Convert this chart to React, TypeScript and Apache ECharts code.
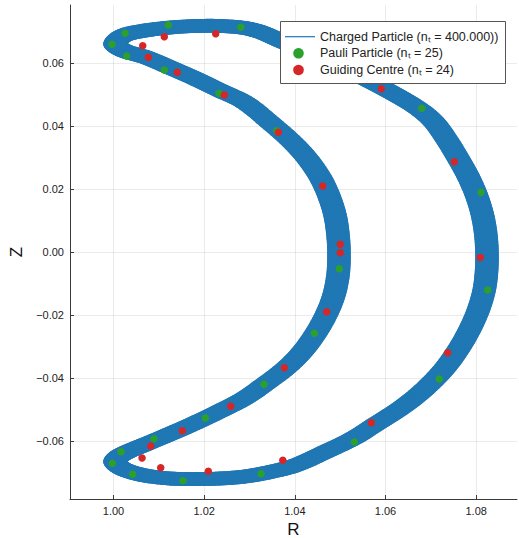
import React, { useEffect, useRef } from "react";
import * as echarts from "echarts";

// Centre line of the charged-particle band (R, Z)
const orbitR = [
  1.00033, 1.00121, 1.00276, 1.00695, 1.01246, 1.01798, 1.02349, 1.029, 1.03275, 1.03672,
  1.04334, 1.05106, 1.05547, 1.05988, 1.06407, 1.06782, 1.07069, 1.07356, 1.07598, 1.07819,
  1.07995, 1.08128, 1.08205, 1.08238, 1.08227, 1.08172, 1.08039, 1.07841, 1.07598, 1.07312,
  1.06981, 1.06606, 1.06209, 1.0579, 1.05304, 1.04665,
  1.04003, 1.03452, 1.029, 1.02349, 1.01798, 1.01246, 1.00695, 1.0032, 1.00121, 1.00033,
  1.00121, 1.00276, 1.00695, 1.01246, 1.01798, 1.02349, 1.029, 1.03341, 1.03805, 1.04158,
  1.04466, 1.04709, 1.04863, 1.04952, 1.04974, 1.04952, 1.04885, 1.04753, 1.04555, 1.04246,
  1.03893, 1.03452, 1.029, 1.02349, 1.01798, 1.01246, 1.00695, 1.00276, 1.00121,
];
const orbitZ = [
  0.06597, 0.06771, 0.06898, 0.07025, 0.0712, 0.07168, 0.07168, 0.07104, 0.06962, 0.06708,
  0.06312, 0.05804, 0.05503, 0.0517, 0.04837, 0.04488, 0.04123, 0.03552, 0.02981, 0.0241,
  0.0184, 0.01237, 0.00634, 0.0, -0.00634, -0.01237, -0.01871, -0.02506, -0.03108, -0.03679,
  -0.04187, -0.04662, -0.05075, -0.05455, -0.05899, -0.06343,
  -0.06771, -0.06978, -0.0712, -0.07184, -0.072, -0.07184, -0.07089, -0.06946, -0.06803, -0.06645,
  -0.06486, -0.06359, -0.06105, -0.05772, -0.05423, -0.05043, -0.04631, -0.04187, -0.03679, -0.03172,
  -0.02569, -0.01935, -0.01364, -0.00729, -0.00095, 0.00539, 0.01173, 0.01776, 0.02379, 0.03013,
  0.03552, 0.04107, 0.04742, 0.05122, 0.05503, 0.05852, 0.06185, 0.06359, 0.0647,
];

// Pauli particle (n_t = 25)
const pauliR = [
  0.99967, 1.00254, 1.00291, 1.01209, 1.0112, 1.02806, 1.02327, 1.036, 1.0498, 1.06798,
  1.08106, 1.08253, 1.07186, 1.04429, 1.03319, 1.02025, 1.03253, 1.05311, 1.00893, 1.00165,
  0.99974, 1.00423, 1.01533, 1.04224, 1.05216,
];
const pauliZ = [
  0.06587, 0.06936, 0.06216, 0.072, 0.05772, 0.07127, 0.05033, 0.03847, -0.0053, 0.04558,
  0.01893, -0.01205, -0.04028, -0.02579, -0.04196, -0.05265, -0.07031, -0.06026, -0.05921, -0.06334,
  -0.06702, -0.07051, -0.07254, 0.06407, 0.05741,
];

// Guiding centre (n_t = 24)
const gcR = [
  1.00644, 1.0112, 1.00768, 1.02254, 1.01407, 1.02444, 1.03635, 1.04614, 1.05002, 1.05002,
  1.05907, 1.07517, 1.0809, 1.07371, 1.05686, 1.04702, 1.03767, 1.02585, 1.01517, 1.02091,
  1.03734, 1.0082, 1.00629, 1.01041,
];
const gcZ = [
  0.06543, 0.06828, 0.06175, 0.06924, 0.05699, 0.04979, 0.03796, 0.02093, 0.00244, -0.00022,
  0.05179, 0.02864, -0.00174, -0.03194, -0.05414, -0.01893, -0.0367, -0.04894, -0.05668, -0.06955,
  -0.06607, -0.06153, -0.06534, -0.06841,
];

const xTicks = [1.0, 1.02, 1.04, 1.06, 1.08];
const yTicks = [-0.06, -0.04, -0.02, 0, 0.02, 0.04, 0.06];

const legendLabels = [
  "Charged Particle (nₜ = 400.000))",
  "Pauli Particle (nₜ = 25)",
  "Guiding Centre (nₜ = 24)",
];

const BLUE = "#1f77b4";
const GREEN = "#2ca02c";
const RED = "#d62728";
const FONT = "Liberation Sans, Helvetica, Arial, sans-serif";
// half-width of the gyration band, in data units (R, Z)
const GYRO_R = 0.0026;
const GYRO_Z = 0.0022;
const SUBDIV = 6;

export default function App() {
  const ref = useRef<HTMLDivElement>(null);

  useEffect(() => {
    const chart = echarts.init(ref.current!, null, { renderer: "svg" });
    const n = orbitR.length;

    // centripetal Catmull-Rom point between p1 and p2
    const crPoint = (p0: number[], p1: number[], p2: number[], p3: number[], u: number) => {
      const d = (a: number[], b: number[]) => Math.max(Math.sqrt(Math.hypot(b[0] - a[0], b[1] - a[1])), 1e-4);
      const t0 = 0;
      const t1 = t0 + d(p0, p1);
      const t2 = t1 + d(p1, p2);
      const t3 = t2 + d(p2, p3);
      const t = t1 + (t2 - t1) * u;
      const lerp = (a: number[], b: number[], ta: number, tb: number) => [
        ((tb - t) / (tb - ta)) * a[0] + ((t - ta) / (tb - ta)) * b[0],
        ((tb - t) / (tb - ta)) * a[1] + ((t - ta) / (tb - ta)) * b[1],
      ];
      const A1 = lerp(p0, p1, t0, t1);
      const A2 = lerp(p1, p2, t1, t2);
      const A3 = lerp(p2, p3, t2, t3);
      const B1 = lerp(A1, A2, t0, t2);
      const B2 = lerp(A2, A3, t1, t3);
      return lerp(B1, B2, t1, t2);
    };

    const renderBand = (params: any, api: any) => {
      const i = params.dataIndex;
      const idx = (k: number) => ((k % n) + n) % n;
      const P = [i - 1, i, i + 1, i + 2].map((k) => api.coord([orbitR[idx(k)], orbitZ[idx(k)]]));
      const sz = api.size([GYRO_R, GYRO_Z]);
      const rx = sz[0];
      const ry = sz[1];
      const pts: number[][] = [];
      for (let s = 0; s <= SUBDIV; s++) pts.push(crPoint(P[0], P[1], P[2], P[3], s / SUBDIV));
      const style = { fill: BLUE };
      const children: any[] = [];
      for (let s = 0; s < SUBDIV; s++) {
        const a = pts[s];
        const b = pts[s + 1];
        const dx = b[0] - a[0];
        const dy = b[1] - a[1];
        const len = Math.hypot(dx, dy) || 1;
        const nx = -dy / len;
        const ny = dx / len;
        const h = Math.sqrt(rx * rx * nx * nx + ry * ry * ny * ny) || 1;
        const ox = (rx * rx * nx) / h;
        const oy = (ry * ry * ny) / h;
        children.push({
          type: "polygon",
          shape: {
            points: [
              [a[0] + ox, a[1] + oy],
              [b[0] + ox, b[1] + oy],
              [b[0] - ox, b[1] - oy],
              [a[0] - ox, a[1] - oy],
            ],
          },
          style,
        });
        children.push({ type: "ellipse", shape: { cx: a[0], cy: a[1], rx, ry }, style });
      }
      return { type: "group", children };
    };

    const axisLineStyle = { color: "#3a3a3a", width: 1 };
    const gridLine = { show: true, lineStyle: { color: "rgba(0,0,0,0.08)", width: 1 } };
    const labelStyle = { fontFamily: FONT, fontSize: 11, color: "#222" };
    const fmt = (v: number) => {
      const s = Math.abs(v) < 1e-9 ? "0.00" : v.toFixed(2);
      return s.replace("-", "−");
    };

    const rowY = [36.7, 53.3, 70];

    chart.setOption({
      animation: false,
      grid: {
        left: 70,
        right: 2,
        top: 5,
        bottom: 39,
        containLabel: false,
        outerBoundsMode: "none",
      },
      xAxis: {
        type: "value",
        min: 0.9904,
        max: 1.089,
        name: "R",
        nameLocation: "middle",
        nameGap: 18,
        nameTextStyle: { fontFamily: FONT, fontSize: 17, color: "#111", lineHeight: 18 },
        axisLine: { show: true, onZero: false, lineStyle: axisLineStyle },
        axisTick: { show: true, inside: true, length: 4, customValues: xTicks, lineStyle: axisLineStyle },
        axisLabel: { ...labelStyle, margin: 6, customValues: xTicks, formatter: fmt },
        splitLine: gridLine,
      },
      yAxis: {
        type: "value",
        min: -0.07834,
        max: 0.07834,
        name: "Z",
        nameLocation: "middle",
        nameGap: 45,
        nameRotate: 90,
        nameTextStyle: { fontFamily: FONT, fontSize: 17, color: "#111" },
        axisLine: { show: true, onZero: false, lineStyle: axisLineStyle },
        axisTick: { show: true, inside: true, length: 4, customValues: yTicks, lineStyle: axisLineStyle },
        axisLabel: { ...labelStyle, margin: 6, customValues: yTicks, formatter: fmt },
        splitLine: gridLine,
      },
      series: [
        {
          type: "custom",
          name: "Charged Particle",
          silent: true,
          renderItem: renderBand,
          encode: { x: 0, y: 1 },
          data: orbitR.map((r, i) => [r, orbitZ[i]]),
          z: 1,
        },
        {
          type: "scatter",
          name: "Pauli Particle",
          symbolSize: 7.5,
          itemStyle: { color: GREEN, opacity: 1 },
          data: pauliR.map((r, i) => [r, pauliZ[i]]),
          z: 3,
        },
        {
          type: "scatter",
          name: "Guiding Centre",
          symbolSize: 7.5,
          itemStyle: { color: RED, opacity: 1 },
          data: gcR.map((r, i) => [r, gcZ[i]]),
          z: 4,
        },
      ],
      graphic: [
        {
          type: "rect",
          z: 100,
          shape: { x: 280.5, y: 21.5, width: 225, height: 62 },
          style: { fill: "#fff", stroke: "#555", lineWidth: 1 },
        },
        {
          type: "line",
          z: 101,
          shape: { x1: 285, y1: rowY[0], x2: 315, y2: rowY[0] },
          style: { stroke: BLUE, lineWidth: 1.2 },
        },
        { type: "circle", z: 101, shape: { cx: 298.5, cy: rowY[1], r: 5.3 }, style: { fill: GREEN } },
        { type: "circle", z: 101, shape: { cx: 298.5, cy: rowY[2], r: 5.3 }, style: { fill: RED } },
        ...legendLabels.map((t, k) => ({
          type: "text",
          z: 101,
          x: 320,
          y: rowY[k],
          style: {
            text: t,
            fill: "#222",
            fontFamily: FONT,
            fontSize: 12.5,
            align: "left",
            verticalAlign: "middle",
          },
        })),
      ],
    });

    return () => chart.dispose();
  }, []);

  return (
    <div
      ref={ref}
      style={{ position: "absolute", left: 0, top: 0, width: 519, height: 538 }}
    />
  );
}
